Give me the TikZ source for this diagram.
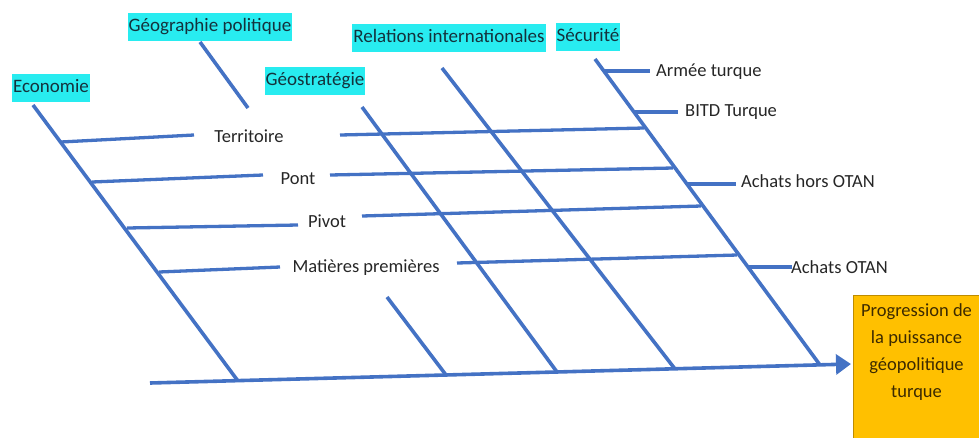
\documentclass[tikz,border=0pt]{standalone}
\usepackage{fontspec}
\setmainfont{Carlito}
\usetikzlibrary{arrows.meta}
\definecolor{bone}{RGB}{68,114,196}
\definecolor{lab}{RGB}{40,236,240}
\definecolor{labtxt}{RGB}{20,50,60}
\definecolor{txt}{RGB}{38,38,38}
\definecolor{gold}{RGB}{255,192,0}
\definecolor{goldedge}{RGB}{190,140,0}
\definecolor{goldtxt}{RGB}{60,42,0}
\begin{document}
\begin{tikzpicture}[x=1pt,y=-1pt,
  boneline/.style={draw=bone,line width=3.6pt},
  ribline/.style={draw=bone,line width=3.3pt},
  catlab/.style={fill=lab,text=labtxt,font=\fontsize{19}{22}\selectfont,inner xsep=1pt,inner ysep=5pt,text height=14pt,text depth=4.5pt},
  ribtxt/.style={text=txt,font=\fontsize{18.5}{22}\selectfont,inner sep=0pt},
  goalbox/.style={draw=goldedge,line width=1pt,fill=gold,text=goldtxt,font=\fontsize{18.5}{27}\selectfont,align=center,anchor=north west,minimum width=126pt,minimum height=150pt,inner sep=0pt,text depth=0pt}
]
\useasboundingbox (0,0) rectangle (979,437);

% category labels
\node[catlab] (eco) at (51,88) {Economie};
\node[catlab] (geopol) at (210,27) {Géographie politique};
\node[catlab] (geostrat) at (315,81) {Géostratégie};
\node[catlab] (relint) at (449,38) {Relations internationales};
\node[catlab] (secu) at (588,37) {Sécurité};

% goal
\node[goalbox] (goal) at (853,295) {\raisebox{0pt}[0pt][0pt]{}\\[-20pt]Progression de\\la puissance\\géopolitique\\turque\\[8pt]\ };

% bone coordinates
\coordinate (e1) at (33,105);   \coordinate (e2) at (238,381);
\coordinate (g1) at (200,42);   \coordinate (g2) at (248,108);
\coordinate (s1) at (362,107);  \coordinate (s2) at (557,372);
\coordinate (x1) at (387,297);  \coordinate (x2) at (446,375);
\coordinate (r1) at (442,68);   \coordinate (r2) at (675,369);
\coordinate (c1) at (595,59);   \coordinate (c2) at (820,365);
\coordinate (sp1) at (150,383); \coordinate (sp2) at (851,364);

% spine
\draw[boneline,-{Triangle[length=15pt,width=20pt]}] (sp1) -- (sp2);

% bones
\draw[boneline] (e1) -- (e2);
\draw[boneline] (g1) -- (g2);
\draw[boneline] (s1) -- (s2);
\draw[boneline] (x1) -- (x2);
\draw[boneline] (r1) -- (r2);
\draw[boneline] (c1) -- (c2);

% ribs with texts
\node[ribtxt] (terr) at (249,136) {Territoire};
\coordinate (t1) at (61,142); \coordinate (t2) at (194,135);
\coordinate (t3) at (340,135); \coordinate (t4) at (644,128);
\draw[ribline] (t1) -- (t2);
\draw[ribline] (t3) -- (t4);

\node[ribtxt] (pont) at (298,179) {Pont};
\coordinate (p1) at (92,182); \coordinate (p2) at (263,175);
\coordinate (p3) at (330,175); \coordinate (p4) at (673,168);
\draw[ribline] (p1) -- (p2);
\draw[ribline] (p3) -- (p4);

\node[ribtxt] (pivot) at (327,221) {Pivot};
\coordinate (v1) at (127,228); \coordinate (v2) at (298,225);
\coordinate (v3) at (362,216); \coordinate (v4) at (701,206);
\draw[ribline] (v1) -- (v2);
\draw[ribline] (v3) -- (v4);

\node[ribtxt] (mat) at (366,268) {Matières premières};
\coordinate (m1) at (159,272); \coordinate (m2) at (280,267);
\coordinate (m3) at (457,263); \coordinate (m4) at (737,255);
\draw[ribline] (m1) -- (m2);
\draw[ribline] (m3) -- (m4);

% security branches
\node[ribtxt,anchor=west] (armee) at (656,72) {Armée turque};
\coordinate (a1) at (604,71); \coordinate (a2) at (650,71);
\draw[ribline] (a1) -- (a2);

\node[ribtxt,anchor=west] (bitd) at (685,112) {BITD Turque};
\coordinate (b1) at (634,112); \coordinate (b2) at (678,112);
\draw[ribline] (b1) -- (b2);

\node[ribtxt,anchor=west] (hors) at (741,181) {Achats hors OTAN};
\coordinate (h1) at (687,184); \coordinate (h2) at (736,184);
\draw[ribline] (h1) -- (h2);

\node[ribtxt,anchor=west] (otan) at (791,267) {Achats OTAN};
\coordinate (o1) at (748,267); \coordinate (o2) at (792,267);
\draw[ribline] (o1) -- (o2);
\end{tikzpicture}
\end{document}
